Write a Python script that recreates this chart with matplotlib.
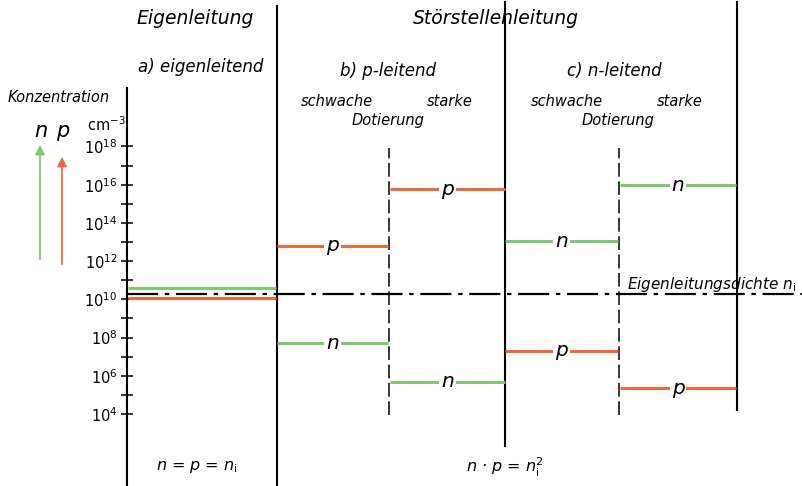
import numpy as np
import matplotlib.pyplot as plt
from matplotlib.ticker import FixedLocator, FuncFormatter

# log10 of the carrier concentrations in cm^-3
ni_log = 10.28
case_names = ['eigenleitend', 'p schwach', 'p stark', 'n schwach', 'n stark']
n_log = [10.60, 7.70, 5.69, 13.05, 15.98]
p_log = [10.07, 12.81, 15.77, 7.31, 5.34]
show_letter = [False, True, True, True, True]
tick_powers = list(range(4, 19))

# layout (x in pixel columns of the 802 px wide picture)
x_left = [128, 277, 390, 505, 620]
x_right = [276, 388, 505, 618, 736]

GREEN = '#7fca6e'
ORANGE = '#ee6a3c'
W, H = 802, 486


def ypx(p):
    # pixel row -> concentration (19.1 px per decade, 1e10 at row 299.3)
    return 10 ** (10 + (299.3 - p) / 19.1)


fig = plt.figure(figsize=(W / 100, H / 100), dpi=100, facecolor='white')
ax = fig.add_axes([127 / W, 0, (W - 127) / W, 1])
ax.set_yscale('log')
ax.set_xlim(127, W)
ax.set_ylim(ypx(H), ypx(0))
ax.patch.set_visible(False)

for s in ('top', 'right', 'bottom'):
    ax.spines[s].set_visible(False)
ax.spines['left'].set_bounds(ypx(H), ypx(88))
ax.spines['left'].set_linewidth(1.5)
ax.xaxis.set_visible(False)
ax.yaxis.set_major_locator(FixedLocator([10.0 ** k for k in tick_powers]))
ax.yaxis.set_minor_locator(FixedLocator([]))
ax.yaxis.set_major_formatter(FuncFormatter(
    lambda v, pos: '10$^{%d}$' % round(np.log10(v)) if round(np.log10(v)) % 2 == 0 else ''))
ax.tick_params(axis='y', direction='inout', length=8, width=1.1, labelsize=10.5, pad=3)

# column separators
ax.plot([277, 277], [ypx(H), ypx(6)], color='black', lw=1.5, clip_on=False)
ax.plot([505, 505], [ypx(446), ypx(2)], color='black', lw=1.5, clip_on=False)
ax.plot([737, 737], [ypx(410), ypx(2)], color='black', lw=1.5, clip_on=False)
for xd in (389, 619):
    ax.plot([xd, xd], [ypx(415), ypx(148)], color='black', lw=1.1, dashes=(9, 3))

# intrinsic density
ax.plot([127, W], [10 ** ni_log] * 2, color='black', lw=1.6, dashes=(14, 3, 2, 3))

# carrier levels
for i in range(len(case_names)):
    for val, col, letter in ((n_log[i], GREEN, 'n'), (p_log[i], ORANGE, 'p')):
        ax.plot([x_left[i], x_right[i]], [10 ** val] * 2, color=col, lw=2.2, solid_capstyle='butt')
        if show_letter[i]:
            ax.text((x_left[i] + x_right[i]) / 2, 10 ** val, letter, fontsize=14.5, style='italic',
                    ha='center', va='center',
                    bbox=dict(facecolor='white', edgecolor='none', pad=1.5))

# texts
it = dict(style='italic', ha='center', va='center')
ax.text(195, ypx(19), 'Eigenleitung', fontsize=13.5, **it)
ax.text(496, ypx(19), 'Störstellenleitung', fontsize=13.5, **it)
ax.text(201, ypx(67), 'a) eigenleitend', fontsize=12, **it)
ax.text(388, ypx(71), 'b) p-leitend', fontsize=12, **it)
ax.text(614, ypx(71), 'c) n-leitend', fontsize=12, **it)
for xc in (388, 618):
    ax.text(xc - 51, ypx(102), 'schwache', fontsize=10.5, **it)
    ax.text(xc + 62, ypx(102), 'starke', fontsize=10.5, **it)
    ax.text(xc, ypx(121), 'Dotierung', fontsize=10.5, **it)
ax.text(8, ypx(97), 'Konzentration', fontsize=10.5, style='italic', ha='left', va='center')
ax.text(106, ypx(125), 'cm$^{-3}$', fontsize=10.5, ha='center', va='center')
ax.text(41, ypx(131), 'n', fontsize=15, **it)
ax.text(63, ypx(131), 'p', fontsize=15, **it)
ax.annotate('', xy=(40, ypx(142)), xytext=(40, ypx(262)), annotation_clip=False,
            arrowprops=dict(arrowstyle='-|>', color=GREEN, lw=1.3, mutation_scale=14))
ax.annotate('', xy=(62, ypx(154)), xytext=(62, ypx(267)), annotation_clip=False,
            arrowprops=dict(arrowstyle='-|>', color=ORANGE, lw=1.3, mutation_scale=14))
ax.text(712, ypx(284), 'Eigenleitungsdichte n$_\\mathrm{i}$', fontsize=11, **it)
ax.text(197, ypx(467), 'n = p = n$_\\mathrm{i}$', fontsize=11.5, **it)
ax.text(505, ypx(467), 'n · p = n$_\\mathrm{i}^\\mathrm{2}$', fontsize=11.5, **it)

fig.savefig('out.png', dpi=100, facecolor='white')
